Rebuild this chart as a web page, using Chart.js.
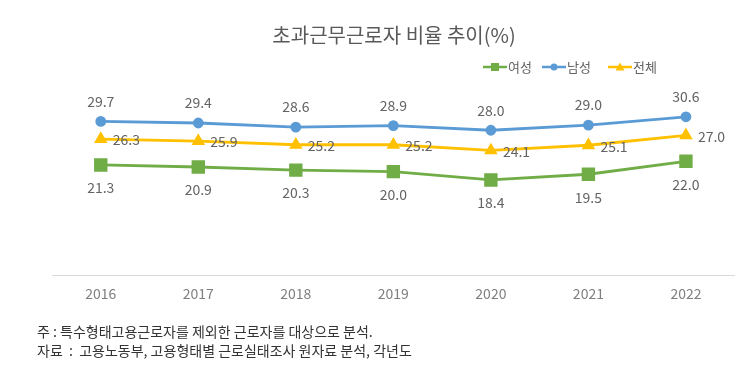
<!DOCTYPE html>
<html>
<head>
<meta charset="utf-8">
<script src="https://cdn.jsdelivr.net/npm/chart.js@4/dist/chart.umd.min.js"></script>
<style>
html,body{margin:0;padding:0;background:#fff;}
#wrap{width:745px;height:376px;position:relative;}
</style>
</head>
<body>
<div id="wrap"><canvas id="c" width="745" height="376"></canvas></div>
<script>
const years = ['2016','2017','2018','2019','2020','2021','2022'];
const female = [21.3, 20.9, 20.3, 20.0, 18.4, 19.5, 22.0];
const male = [29.7, 29.4, 28.6, 28.9, 28.0, 29.0, 30.6];
const total = [26.3, 25.9, 25.2, 25.2, 24.1, 25.1, 27.0];
const seriesNames = ['여성', '남성', '전체'];
const titleText = '초과근무근로자 비율 추이(%)';
const notes = ['주 : 특수형태고용근로자를 제외한 근로자를 대상으로 분석.', '자료  :  고용노동부, 고용형태별 근로실태조사 원자료 분석, 각년도'];

const GREEN = '#70AD47', BLUE = '#5B9BD5', GOLD = '#FFC000';
const FONT = "'Noto Sans CJK KR', 'Noto Sans', sans-serif";

const labelPlugin = {
  id: 'labels',
  afterDatasetsDraw(chart) {
    const ctx = chart.ctx;
    ctx.save();
    ctx.font = '14px ' + FONT;
    ctx.fillStyle = '#636363';
    chart.data.datasets.forEach((ds, i) => {
      const meta = chart.getDatasetMeta(i);
      meta.data.forEach((pt, j) => {
        const txt = ds.data[j].toFixed(1);
        if (i === 0) { ctx.textAlign = 'center'; ctx.textBaseline = 'middle'; ctx.fillText(txt, pt.x, pt.y + 23); }
        else if (i === 1) { ctx.textAlign = 'center'; ctx.textBaseline = 'middle'; ctx.fillText(txt, pt.x, pt.y - 20); }
        else { ctx.textAlign = 'left'; ctx.textBaseline = 'middle'; ctx.fillText(txt, pt.x + 12, pt.y + 1); }
      });
    });
    ctx.restore();
  },
  afterDraw(chart) {
    const ctx = chart.ctx;
    ctx.save();
    const items = [
      {x: 483, color: GREEN, style: 'rect'},
      {x: 542, color: BLUE, style: 'circle'},
      {x: 608, color: GOLD, style: 'triangle'}
    ];
    const ly = 67;
    items.forEach((it, k) => {
      ctx.strokeStyle = it.color; ctx.fillStyle = it.color; ctx.lineWidth = 2.5;
      ctx.beginPath(); ctx.moveTo(it.x, ly); ctx.lineTo(it.x + 24, ly); ctx.stroke();
      const cx = it.x + 12;
      ctx.beginPath();
      if (it.style === 'rect') ctx.rect(cx - 4, ly - 4, 8, 8);
      else if (it.style === 'circle') ctx.arc(cx, ly, 3.5, 0, Math.PI * 2);
      else { ctx.moveTo(cx, ly - 4.5); ctx.lineTo(cx + 4.5, ly + 3.5); ctx.lineTo(cx - 4.5, ly + 3.5); ctx.closePath(); }
      ctx.fill();
      ctx.fillStyle = '#636363';
      ctx.font = '13px ' + FONT;
      ctx.textAlign = 'left'; ctx.textBaseline = 'middle';
      ctx.fillText(seriesNames[k], it.x + 25, ly);
    });
    ctx.fillStyle = '#333';
    ctx.font = '14px ' + FONT;
    ctx.textAlign = 'left'; ctx.textBaseline = 'middle';
    ctx.fillText(notes[0], 37, 332);
    ctx.fillText(notes[1], 37, 351);
    ctx.restore();
  }
};

new Chart(document.getElementById('c'), {
  type: 'line',
  data: {
    labels: years,
    datasets: [
      {label: seriesNames[0], data: female, borderColor: GREEN, backgroundColor: GREEN, borderWidth: 2.8, pointStyle: 'rect', pointRadius: 7.5, pointHoverRadius: 7.5},
      {label: seriesNames[1], data: male, borderColor: BLUE, backgroundColor: BLUE, borderWidth: 2.8, pointStyle: 'circle', pointRadius: 4, pointHoverRadius: 4},
      {label: seriesNames[2], data: total, borderColor: GOLD, backgroundColor: GOLD, borderWidth: 2.8, pointStyle: 'triangle', pointRadius: 5, pointHoverRadius: 5}
    ]
  },
  options: {
    responsive: false,
    animation: false,
    layout: {padding: {left: 52, right: 9, top: 0, bottom: 64}},
    plugins: {
      legend: {display: false},
      tooltip: {enabled: false},
      title: {display: true, text: titleText, color: '#595959', font: {family: FONT, size: 20, weight: 'normal'}, padding: {top: 23, bottom: 47}}
    },
    scales: {
      x: {
        offset: true,
        grid: {display: false, drawTicks: false},
        border: {color: '#D9D9D9', width: 1},
        ticks: {color: '#7F7F7F', font: {family: FONT, size: 14}, padding: 10}
      },
      y: {display: false, min: 0, max: 35}
    }
  },
  plugins: [labelPlugin]
});
</script>
</body>
</html>
